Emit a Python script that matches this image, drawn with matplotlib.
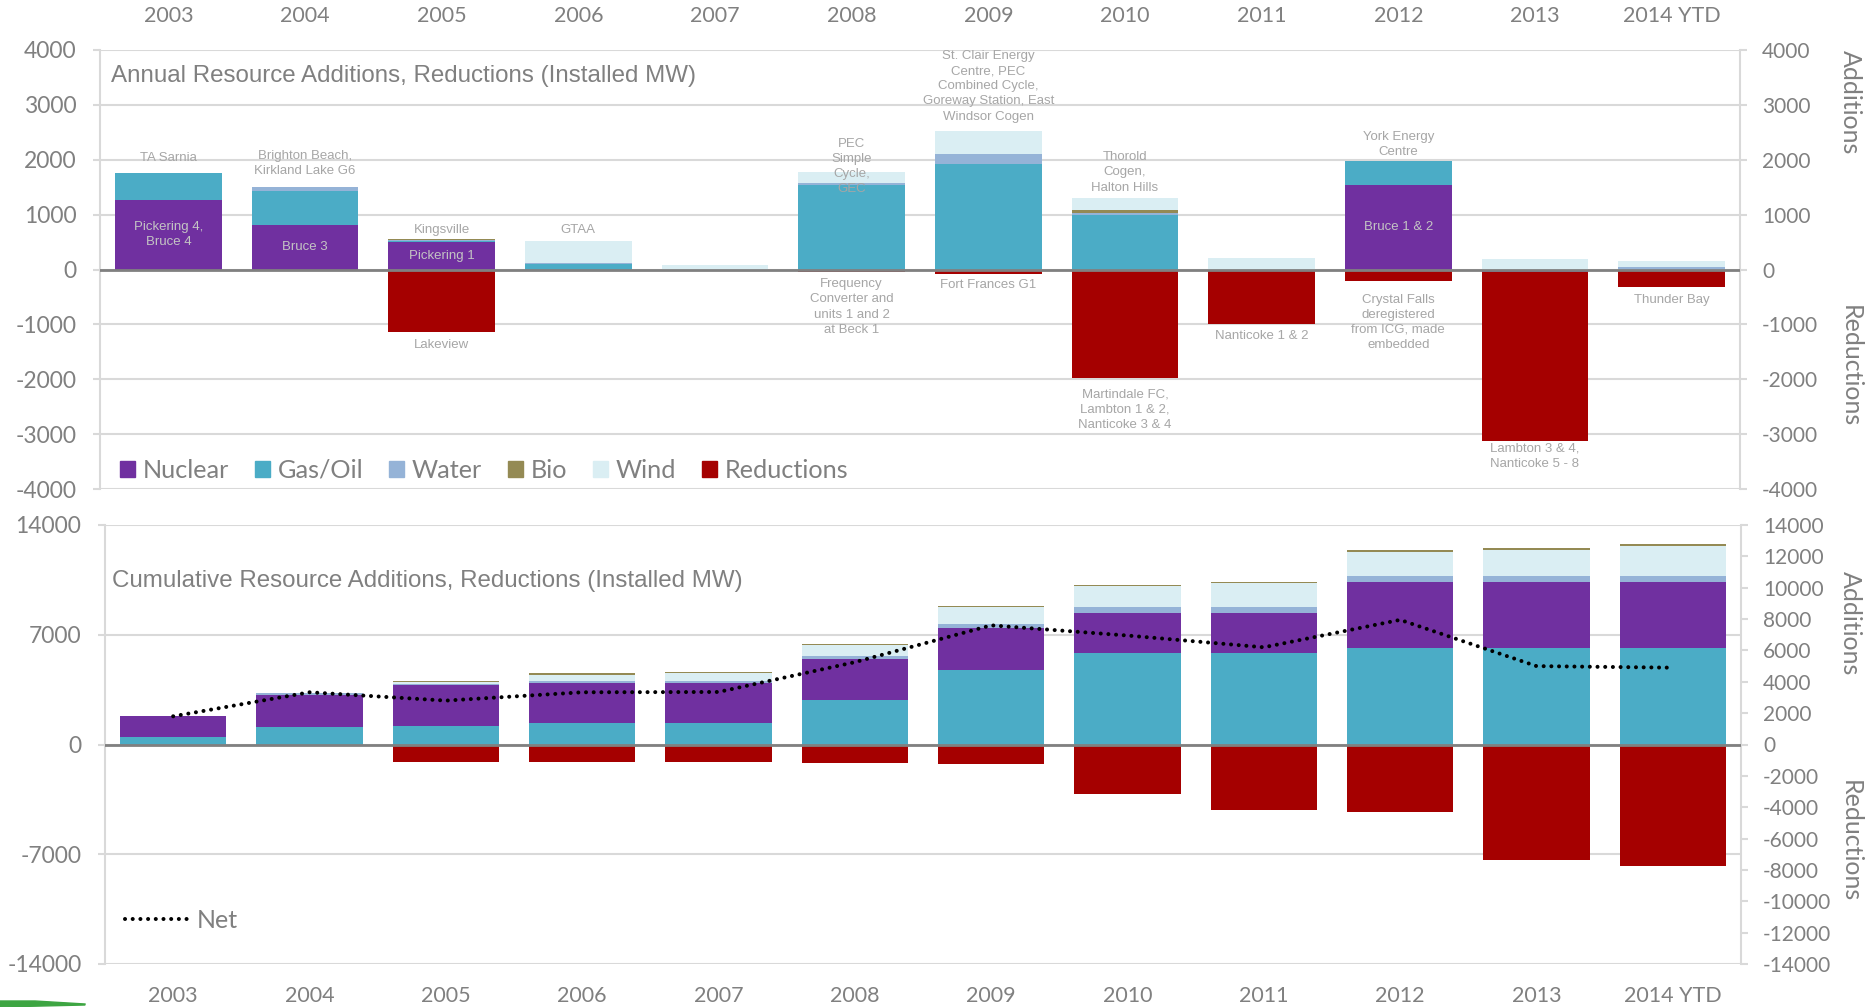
import numpy as np
import matplotlib.pyplot as plt
from matplotlib.patches import Patch, Polygon
from matplotlib.lines import Line2D

# ---------------------------------------------------------------- data
years = ['2003', '2004', '2005', '2006', '2007', '2008',
         '2009', '2010', '2011', '2012', '2013', '2014 YTD']

# annual additions / reductions (MW)
nuclear = [1265, 815, 500, 0, 0, 0, 0, 0, 0, 1535, -40, 0]
gas_oil = [500, 610, 20, 100, 0, 1540, 1930, 985, 0, 445, 0, 0]
water = [0, 75, 10, 10, 0, 30, 180, 45, 0, 0, 0, 45]
bio = [0, 0, 30, 0, 0, 0, 0, 60, 0, 0, 0, 0]
wind = [0, 0, 0, 410, 85, 200, 410, 205, 215, 0, 185, 110]
reductions = [0, 0, -1140, 0, 0, -45, -90, -1970, -990, -215, -3090, -310]

# cumulative (MW)
cum_gas = [510, 1100, 1210, 1340, 1340, 2860, 4770, 5830, 5830, 6170, 6170, 6170]
cum_nuclear = [1290, 2080, 2570, 2560, 2580, 2600, 2660, 2570, 2570, 4220, 4220, 4220]
cum_water = [20, 120, 110, 130, 130, 160, 260, 340, 340, 340, 340, 360]
cum_wind = [0, 0, 90, 400, 490, 700, 1080, 1340, 1570, 1570, 1700, 1910]
cum_bio = [0, 0, 80, 100, 100, 110, 90, 85, 85, 85, 85, 105]
cum_red = [0, 0, -1140, -1140, -1140, -1180, -1250, -3140, -4200, -4330, -7380, -7740]
net = [1800, 3330, 2800, 3330, 3350, 5250, 7600, 6950, 6200, 7950, 5000, 4900]

# annotations: (year index, text, anchor, offset in px)
notes = [
    (0, 'TA Sarnia', 'above', 15),
    (1, 'Brighton Beach,\nKirkland Lake G6', 'above', 24),
    (2, 'Kingsville', 'above', 9),
    (3, 'GTAA', 'above', 11),
    (5, 'PEC\nSimple\nCycle,\nGEC', 'above', 6),
    (6, 'St. Clair Energy\nCentre, PEC\nCombined Cycle,\nGoreway Station, East\nWindsor Cogen', 'above', 45),
    (7, 'Thorold\nCogen,\nHalton Hills', 'above', 26),
    (9, 'York Energy\nCentre', 'above', 16),
    (2, 'Lakeview', 'below', 13),
    (5, 'Frequency\nConverter and\nunits 1 and 2\nat Beck 1', 'below', 35),
    (6, 'Fort Frances G1', 'below', 11),
    (7, 'Martindale FC,\nLambton 1 & 2,\nNanticoke 3 & 4', 'below', 32),
    (8, 'Nanticoke 1 & 2', 'below', 12),
    (9, 'Crystal Falls\nderegistered\nfrom ICG, made\nembedded', 'below', 41),
    (10, 'Lambton 3 & 4,\nNanticoke 5 - 8', 'below', 15),
    (11, 'Thunder Bay', 'below', 13),
    (0, 'Pickering 4,\nBruce 4', 'inside', 0),
    (1, 'Bruce 3', 'inside', 0),
    (2, 'Pickering 1', 'inside', 0),
    (9, 'Bruce 1 & 2', 'inside', 0),
]

# ---------------------------------------------------------------- style
c_nuc = '#7030A0'
c_gas = '#4BACC6'
c_water = '#95B3D7'
c_bio = '#948A54'
c_wind = '#DAEEF3'
c_red = '#A50000'
grey = '#808080'
grid = '#D9D9D9'
tick_font = 'Lato'
W, H = 1868, 1007
px = 0.72  # points per pixel at dpi 100

fig = plt.figure(figsize=(W / 100, H / 100), dpi=100)
ax1 = fig.add_axes([100 / W, 1 - 489 / H, 1640 / W, 439 / H])
ax2 = fig.add_axes([105 / W, 1 - 964 / H, 1636 / W, 439 / H])

x = np.arange(len(years))
bw = 0.78


def stack(ax, series):
    pos = np.zeros(len(x))
    neg = np.zeros(len(x))
    for vals, col in series:
        v = np.array(vals, dtype=float)
        bottom = np.where(v >= 0, pos, neg)
        ax.bar(x, v, bw, bottom=bottom, color=col, zorder=2)
        pos = pos + np.clip(v, 0, None)
        neg = neg + np.clip(v, None, 0)
    return pos, neg


def frame(ax, lim, lticks, rticks):
    ax.set_xlim(-0.5, len(x) - 0.5)
    ax.set_ylim(-lim, lim)
    ax.set_yticks(lticks)
    ax.set_yticklabels([str(t) for t in lticks], fontsize=16.5, color=grey, family=tick_font)
    ax.grid(axis='y', color=grid, lw=1.5, zorder=0)
    ax.set_axisbelow(True)
    for s in ['top', 'bottom']:
        ax.spines[s].set_visible(False)
    for s in ['left', 'right']:
        ax.spines[s].set_color(grid)
        ax.spines[s].set_linewidth(1.5)
    ax.tick_params(axis='y', length=5, color=grid, width=1.5, pad=12)
    ax.tick_params(axis='x', length=0, labelsize=15.5, labelcolor=grey)
    ax.axhline(0, color=grey, lw=2, zorder=3)
    axr = ax.twinx()
    axr.set_ylim(-lim, lim)
    axr.set_yticks(rticks)
    axr.set_yticklabels([str(t) for t in rticks], fontsize=15, color=grey, family=tick_font)
    axr.tick_params(axis='y', length=5, color=grid, width=1.5, pad=11)
    for s in axr.spines.values():
        s.set_visible(False)
    return axr


# ---------------------------------------------------------------- annual chart
pos1, neg1 = stack(ax1, [(nuclear, c_nuc), (gas_oil, c_gas), (water, c_water),
                         (bio, c_bio), (wind, c_wind), (reductions, c_red)])
ticks1 = list(range(-4000, 4001, 1000))
frame(ax1, 4000, ticks1, ticks1)
ax1.xaxis.tick_top()
ax1.set_xticks(x)
ax1.set_xticklabels(years, family=tick_font)
ax1.tick_params(axis='x', pad=17)

ax1.text(0.007, 0.94, 'Annual Resource Additions, Reductions (Installed MW)',
         transform=ax1.transAxes, fontsize=17.4, color=grey,
         family='Liberation Sans', va='center')

for i, txt, where, off in notes:
    if where == 'above':
        y0, dy, col = pos1[i], off * px, '#A6A6A6'
    elif where == 'below':
        y0, dy, col = neg1[i], -off * px, '#A6A6A6'
    else:
        y0, dy, col = nuclear[i] / 2, 0, '#C4C4C4'
    ax1.annotate(txt, (i, y0), xytext=(0, dy), textcoords='offset points',
                 ha='center', va='center', fontsize=9.5, color=col,
                 family='Liberation Sans', linespacing=1.35, zorder=5)

handles = [Patch(color=c) for c in [c_nuc, c_gas, c_water, c_bio, c_wind, c_red]]
leg = ax1.legend(handles, ['Nuclear', 'Gas/Oil', 'Water', 'Bio', 'Wind', 'Reductions'],
                 loc='center left', bbox_to_anchor=(0.012, 0.043), ncol=6,
                 frameon=False, handlelength=0.62, handleheight=0.62,
                 handletextpad=0.3, columnspacing=1.0, borderpad=0, borderaxespad=0,
                 prop={'family': tick_font, 'size': 18.2})
for t in leg.get_texts():
    t.set_color(grey)

# ---------------------------------------------------------------- cumulative chart
stack(ax2, [(cum_gas, c_gas), (cum_nuclear, c_nuc), (cum_water, c_water),
            (cum_wind, c_wind), (cum_bio, c_bio), (cum_red, c_red)])
frame(ax2, 14000, list(range(-14000, 14001, 7000)), list(range(-14000, 14001, 2000)))
ax2.set_xticks(x)
ax2.set_xticklabels(years, family=tick_font)
ax2.tick_params(axis='x', pad=16)
ax2.plot(x, net, color='black', lw=2.9, linestyle=(0, (0.01, 1.9)),
         dash_capstyle='round', zorder=6)

ax2.text(0.004, 0.872, 'Cumulative Resource Additions, Reductions (Installed MW)',
         transform=ax2.transAxes, fontsize=17.4, color=grey,
         family='Liberation Sans', va='center')
net_h = Line2D([], [], color='black', lw=2.9, linestyle=(0, (0.01, 1.9)),
               dash_capstyle='round')
leg2 = ax2.legend([net_h], ['Net'], loc='center left', bbox_to_anchor=(0.012, 0.1),
                  frameon=False, handlelength=2.5, handletextpad=0.4,
                  borderpad=0, borderaxespad=0, prop={'family': tick_font, 'size': 18})
for t in leg2.get_texts():
    t.set_color(grey)

# side captions
for label, yy in [('Additions', 102), ('Reductions', 366), ('Additions', 623), ('Reductions', 841)]:
    fig.text(1850 / W, 1 - yy / H, label, rotation=270, ha='center', va='center',
             fontsize=18, color=grey, family=tick_font)

# green swoosh in the corner
fig.patches.append(Polygon([(0, 1 - 1001 / H), (35 / W, 1 - 1001 / H), (85 / W, 1 - 1004 / H),
                            (85 / W, 1 - 1005 / H), (0, 1 - 1007 / H)],
                           closed=True, transform=fig.transFigure, color='#3DA542'))

fig.savefig('out.png', dpi=100)
